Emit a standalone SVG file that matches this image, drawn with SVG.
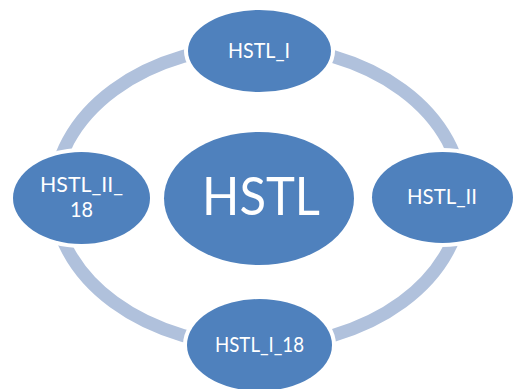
<svg xmlns="http://www.w3.org/2000/svg" width="513" height="389" viewBox="0 0 513 389">
<style>
.ring{fill:none;stroke:#B0C1DC;stroke-width:13}
.halo{fill:#FFFFFF}
.node{fill:#4F81BD}
.lbl{fill:#FFFFFF;font-family:Lato,"Open Sans","Liberation Sans",sans-serif;text-anchor:middle}
.sm{font-size:21px}
.big{font-size:53px}
</style>
<rect width="513" height="389" fill="#FFFFFF"/>
<g id="connectors">
<path class="ring" d="M258,46 A204,150 0 0 1 462,196"/>
<path class="ring" d="M462,196 A204,150 0 0 1 258,346"/>
<path class="ring" d="M258,346 A204,150 0 0 1 54,196"/>
<path class="ring" d="M54,196 A204,150 0 0 1 258,46"/>
</g>
<g id="node-center">
<ellipse class="node" cx="259" cy="198.5" rx="95" ry="66.5"/>
<text class="lbl big" x="261" y="215" textLength="118" lengthAdjust="spacingAndGlyphs">HSTL</text>
</g>
<g id="node-top">
<ellipse class="halo" cx="259.5" cy="51" rx="75.5" ry="45"/>
<ellipse class="node" cx="259.5" cy="51" rx="71.5" ry="41"/>
<text class="lbl sm" x="259" y="58" textLength="62" lengthAdjust="spacingAndGlyphs">HSTL_I</text>
</g>
<g id="node-right">
<ellipse class="halo" cx="442.5" cy="197.5" rx="74.5" ry="49.5"/>
<ellipse class="node" cx="442.5" cy="197.5" rx="70.5" ry="45.5"/>
<text class="lbl sm" x="442" y="204" textLength="70" lengthAdjust="spacingAndGlyphs">HSTL_II</text>
</g>
<g id="node-bottom">
<ellipse class="halo" cx="259.5" cy="345" rx="76.5" ry="50"/>
<ellipse class="node" cx="259.5" cy="345" rx="72.5" ry="46"/>
<text class="lbl sm" x="259.5" y="352" textLength="89" lengthAdjust="spacingAndGlyphs">HSTL_I_18</text>
</g>
<g id="node-left">
<ellipse class="halo" cx="81.5" cy="198" rx="72.5" ry="50"/>
<ellipse class="node" cx="81.5" cy="198" rx="68.5" ry="46"/>
<text class="lbl sm" x="81.5" y="192" textLength="83" lengthAdjust="spacingAndGlyphs">HSTL_II_</text>
<text class="lbl sm" x="81.5" y="217" textLength="23" lengthAdjust="spacingAndGlyphs">18</text>
</g>
</svg>
